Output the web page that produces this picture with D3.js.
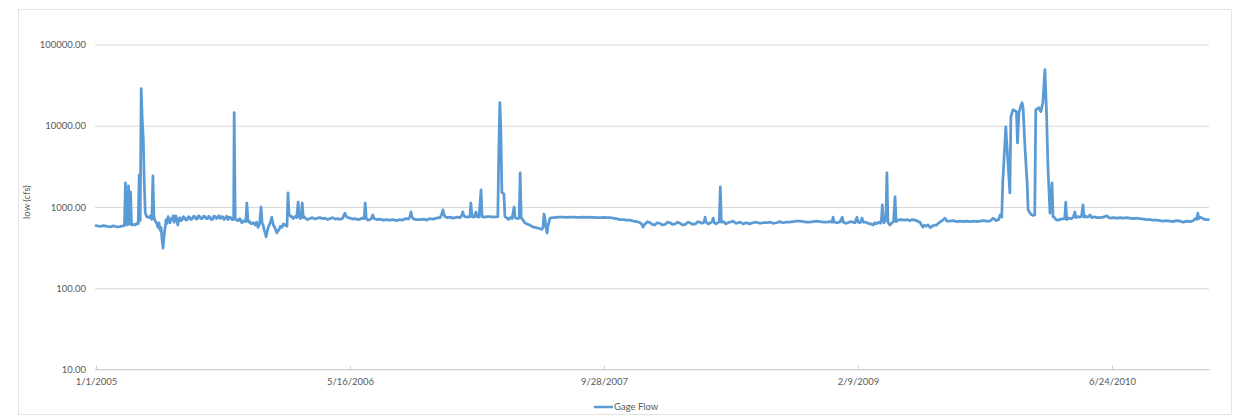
<!DOCTYPE html>
<html>
<head>
<meta charset="utf-8">
<script src="https://cdn.jsdelivr.net/npm/d3@7"></script>
<style>
  html, body { margin: 0; padding: 0; background: #fff; }
  svg { display: block; }
  text { font-family: Lato, "Open Sans", "Liberation Sans", sans-serif; fill: #595959; }
</style>
</head>
<body>
<svg id="chart" width="1245" height="419"></svg>
<script>
// Daily gage flow record: days counted from the start date, flow in cfs
const startDate = "2005-01-01";
const dayIndex = [
  0, 8, 14, 18, 24, 28, 33, 37, 42, 47,
  53, 56, 58, 60, 62, 64, 66, 68, 70, 72,
  77, 80, 83, 85, 87, 89, 91, 93, 95, 97,
  100, 104, 107, 110, 112, 114, 116, 118, 120, 122,
  124, 126, 128, 130, 132, 134, 136, 138, 140, 142,
  144, 146, 148, 150, 152, 154, 156, 157, 159, 161,
  163, 165, 167, 170, 172, 175, 177, 180, 182, 185,
  187, 190, 192, 195, 197, 200, 202, 205, 207, 210,
  212, 215, 217, 220, 222, 225, 227, 230, 232, 235,
  237, 240, 242, 245, 247, 250, 252, 255, 257, 260,
  262, 265, 268, 271, 272, 274, 277, 280, 283, 287,
  291, 295, 297, 299, 301, 303, 306, 310, 313, 316,
  319, 322, 325, 327, 329, 331, 333, 335, 337, 339,
  341, 343, 346, 349, 352, 354, 356, 358, 360, 363,
  366, 369, 372, 376, 378, 380, 382, 384, 386, 388,
  390, 393, 395, 398, 400, 402, 404, 406, 408, 410,
  412, 416, 421, 426, 431, 436, 441, 446, 451, 456,
  461, 466, 471, 476, 480, 485, 490, 493, 496, 500,
  505, 510, 515, 520, 525, 528, 530, 532, 535, 539,
  542, 545, 547, 552, 559, 565, 572, 579, 585, 591,
  598, 604, 610, 615, 618, 620, 622, 624, 630, 638,
  645, 651, 657, 664, 670, 677, 680, 683, 685, 687,
  692, 697, 702, 707, 712, 717, 720, 722, 724, 726,
  731, 736, 738, 740, 744, 748, 750, 754, 758, 760,
  765, 770, 776, 782, 789, 791, 793, 795, 797, 799,
  801, 803, 805, 809, 812, 815, 819, 823, 825, 829,
  833, 835, 837, 840, 844, 848, 851, 854, 857, 860,
  863, 866, 870, 874, 878, 880, 882, 884, 886, 888,
  890, 894, 899, 904, 908, 913, 920, 926, 933, 940,
  946, 953, 960, 966, 972, 979, 985, 992, 999, 1005,
  1012, 1018, 1024, 1031, 1038, 1044, 1051, 1058, 1065, 1071,
  1074, 1077, 1079, 1081, 1086, 1091, 1095, 1100, 1105, 1110,
  1115, 1120, 1125, 1130, 1135, 1140, 1145, 1150, 1155, 1160,
  1165, 1169, 1175, 1180, 1185, 1189, 1193, 1197, 1199, 1201,
  1205, 1210, 1213, 1215, 1217, 1221, 1225, 1227, 1229, 1231,
  1235, 1240, 1244, 1248, 1254, 1260, 1264, 1268, 1274, 1280,
  1287, 1293, 1300, 1307, 1313, 1320, 1327, 1333, 1340, 1346,
  1352, 1359, 1366, 1372, 1379, 1386, 1392, 1399, 1406, 1412,
  1419, 1425, 1432, 1440, 1445, 1449, 1451, 1453, 1460, 1465,
  1469, 1471, 1476, 1480, 1485, 1490, 1494, 1498, 1500, 1504,
  1508, 1510, 1515, 1520, 1525, 1530, 1533, 1536, 1540, 1544,
  1546, 1548, 1550, 1551, 1555, 1557, 1559, 1561, 1563, 1567,
  1570, 1573, 1575, 1579, 1585, 1592, 1597, 1602, 1607, 1612,
  1617, 1622, 1625, 1628, 1631, 1634, 1638, 1642, 1646, 1651,
  1655, 1658, 1661, 1666, 1671, 1675, 1681, 1688, 1694, 1701,
  1707, 1714, 1720, 1727, 1734, 1740, 1747, 1754, 1760, 1766,
  1772, 1777, 1780, 1783, 1785, 1791, 1795, 1799, 1801, 1805,
  1809, 1812, 1814, 1817, 1820, 1823, 1825, 1829, 1833, 1835,
  1840, 1844, 1848, 1850, 1856, 1860, 1864, 1868, 1871, 1874,
  1878, 1882, 1884, 1886, 1890, 1894, 1900, 1907, 1909, 1911,
  1915, 1920, 1924, 1927, 1929, 1933, 1937, 1940, 1943, 1945,
  1948, 1951, 1954, 1957, 1960, 1965, 1970, 1976, 1983, 1990,
  1994, 1996, 2003, 2010, 2016, 2022, 2029, 2035, 2042, 2049,
  2055, 2062, 2068, 2075, 2081, 2088, 2094, 2101, 2107, 2114,
  2120, 2127, 2134, 2140, 2147, 2154, 2160, 2164, 2167, 2169,
  2171, 2174, 2177, 2181, 2185, 2190
];
const flowCfs = [
  590, 575, 590, 585, 575, 570, 585, 580, 570, 575,
  585, 590, 1980, 620, 600, 1820, 620, 1530, 600, 610,
  600, 630, 620, 2480, 680, 28600, 12000, 7100, 2000, 843,
  760, 740, 780, 700, 2410, 760, 690, 650, 620, 560,
  640, 520, 560, 400, 312, 440, 560, 700, 630, 760,
  700, 640, 720, 700, 780, 650, 700, 780, 720, 600,
  700, 740, 680, 700, 760, 730, 690, 700, 760, 740,
  700, 720, 770, 760, 710, 720, 780, 750, 720, 730,
  770, 760, 720, 720, 770, 740, 700, 710, 770, 760,
  720, 740, 780, 720, 760, 750, 700, 730, 770, 700,
  750, 740, 700, 700, 14500, 720, 690, 680, 720, 640,
  680, 660, 1120, 700, 650, 660, 620, 640, 600, 650,
  560, 620, 1000, 640, 600, 520, 480, 430, 500, 560,
  600, 640, 750, 600, 560, 520, 480, 510, 520, 580,
  560, 620, 600, 580, 1490, 800, 790, 760, 760, 720,
  740, 770, 740, 1150, 760, 720, 750, 1120, 740, 760,
  730, 700, 720, 740, 710, 730, 740, 720, 730, 700,
  720, 740, 710, 720, 700, 720, 840, 760, 740, 730,
  710, 720, 700, 710, 730, 720, 1120, 720, 690, 700,
  720, 800, 720, 700, 710, 690, 700, 690, 700, 680,
  700, 690, 720, 710, 760, 870, 760, 720, 700, 700,
  710, 690, 720, 710, 730, 740, 790, 920, 810, 760,
  740, 750, 730, 740, 750, 740, 790, 870, 790, 760,
  750, 760, 1120, 760, 750, 870, 760, 750, 1620, 760,
  750, 760, 760, 750, 760, 760, 5000, 19200, 9000, 1500,
  1490, 1450, 760, 730, 700, 740, 720, 1000, 740, 720,
  730, 2630, 740, 700, 640, 620, 610, 600, 580, 570,
  560, 560, 550, 540, 530, 560, 820, 700, 560, 477,
  600, 730, 740, 740, 750, 750, 750, 745, 750, 750,
  745, 745, 750, 745, 750, 745, 740, 740, 745, 740,
  740, 730, 720, 700, 700, 690, 690, 670, 660, 640,
  620, 566, 600, 620, 660, 640, 610, 600, 640, 630,
  600, 610, 650, 640, 610, 620, 650, 630, 600, 610,
  650, 640, 610, 620, 660, 650, 630, 650, 750, 650,
  620, 640, 660, 730, 640, 620, 650, 660, 1770, 650,
  660, 620, 640, 650, 670, 630, 640, 650, 620, 640,
  620, 640, 650, 630, 640, 640, 650, 630, 640, 660,
  640, 650, 650, 660, 670, 670, 660, 650, 650, 660,
  670, 660, 650, 650, 660, 650, 750, 650, 640, 660,
  750, 650, 630, 640, 660, 650, 640, 750, 650, 640,
  730, 650, 650, 630, 620, 600, 640, 620, 650, 630,
  680, 1060, 700, 640, 700, 2630, 650, 620, 600, 640,
  660, 1330, 660, 690, 700, 690, 700, 680, 700, 690,
  670, 650, 600, 566, 600, 580, 600, 560, 580, 600,
  600, 630, 650, 680, 730, 670, 670, 680, 660, 670,
  660, 670, 660, 670, 660, 670, 680, 670, 670, 730,
  680, 700, 800, 750, 1980, 9700, 3800, 1490, 12900, 15700,
  15300, 14900, 6150, 14500, 17000, 19200, 16700, 5060, 1980, 920,
  820, 790, 800, 15700, 16700, 14900, 19200, 49000, 15700, 3120,
  840, 1980, 760, 750, 700, 690, 710, 720, 1150, 700,
  730, 720, 750, 870, 740, 760, 750, 770, 1060, 750,
  770, 750, 760, 800, 740, 760, 740, 740, 750, 780,
  740, 730, 740, 730, 740, 730, 740, 730, 720, 730,
  720, 710, 700, 700, 690, 690, 680, 670, 680, 670,
  660, 680, 670, 650, 670, 660, 680, 720, 700, 840,
  720, 750, 730, 710, 700, 700
];
const yTickValues = [10, 100, 1000, 10000, 100000];
const xTickLabels = ["1/1/2005", "5/16/2006", "9/28/2007", "2/9/2009", "6/24/2010"];
const seriesName = "Gage Flow";
const yAxisTitle = "low (cfs)";

const svg = d3.select("#chart");
const lineColor = "#5b9bd5";

const parseIso = d3.utcParse("%Y-%m-%d");
const parseUs = d3.utcParse("%m/%d/%Y");
const t0 = parseIso(startDate);
const series = d3.zip(dayIndex, flowCfs).map(([d, v]) => ({ date: d3.utcDay.offset(t0, d), value: v }));
const xTicks = xTickLabels.map(s => parseUs(s));

const plot = { left: 96, right: 1210, top: 44.5, bottom: 369.5 };

const x = d3.scaleUtc()
  .domain([t0, d3.utcDay.offset(t0, 2193)])
  .range([plot.left, plot.right]);
const y = d3.scaleLog()
  .domain([10, 100000])
  .range([plot.bottom, plot.top]);

// chart area frame
svg.append("rect")
  .attr("x", 18.5).attr("y", 9.5)
  .attr("width", 1213).attr("height", 405)
  .attr("fill", "none").attr("stroke", "#e3e3e3").attr("stroke-width", 1);

// horizontal gridlines with value labels
const yAxis = d3.axisLeft(y)
  .tickValues(yTickValues)
  .tickFormat(d3.format(".2f"))
  .tickSize(-(plot.right - plot.left))
  .tickPadding(9);
const gy = svg.append("g")
  .attr("transform", `translate(${plot.left - 1},0)`)
  .call(yAxis);
gy.select(".domain").remove();
gy.selectAll(".tick line").attr("stroke", "#d9d9d9").attr("stroke-width", 1);
gy.selectAll(".tick text").attr("font-size", "9.5px").attr("fill", "#595959");

// date axis
const xAxis = d3.axisBottom(x)
  .tickValues(xTicks)
  .tickFormat(d3.utcFormat("%-m/%-d/%Y"))
  .tickSize(0)
  .tickPadding(9);
const gx = svg.append("g")
  .attr("transform", `translate(0,${plot.bottom})`)
  .call(xAxis);
gx.select(".domain")
  .attr("d", `M${plot.left - 1},0H${plot.right}`)
  .attr("stroke", "#d0d0d0").attr("stroke-width", 1);
gx.selectAll(".tick").append("line")
  .attr("y1", 0).attr("y2", -4)
  .attr("stroke", "#d0d0d0");
gx.selectAll(".tick text").attr("font-size", "9.5px").attr("fill", "#595959");

// axis title
svg.append("text")
  .attr("transform", "translate(30,202) rotate(-90)")
  .attr("text-anchor", "middle")
  .attr("font-size", "9.5px")
  .text(yAxisTitle);

// flow line
const line = d3.line()
  .x(d => x(d.date))
  .y(d => y(d.value));
svg.append("path")
  .datum(series)
  .attr("fill", "none")
  .attr("stroke", lineColor)
  .attr("stroke-width", 2.75)
  .attr("stroke-linejoin", "round")
  .attr("stroke-linecap", "round")
  .attr("d", line);

// legend
const lg = svg.append("g").attr("transform", "translate(594,407)");
lg.append("line")
  .attr("x1", 0).attr("x2", 19).attr("y1", 0).attr("y2", 0)
  .attr("stroke", lineColor).attr("stroke-width", 2.5);
lg.append("text")
  .attr("x", 20).attr("y", 0).attr("dy", "0.35em")
  .attr("font-size", "9.5px")
  .text(seriesName);
</script>
</body>
</html>
